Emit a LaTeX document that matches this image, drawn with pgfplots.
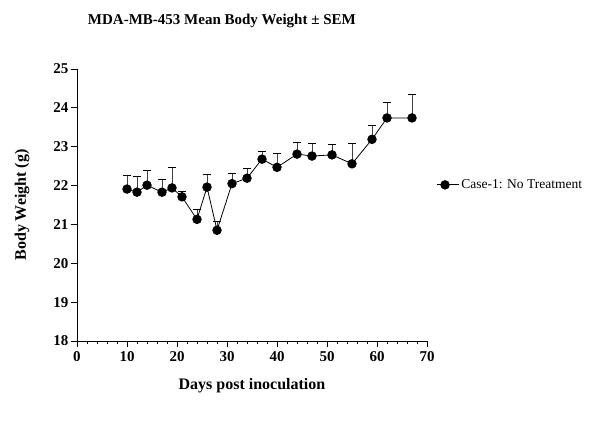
\documentclass[border=0pt]{standalone}
\usepackage{fontspec}
\setmainfont{Liberation Serif}
\usepackage{pgfplots}
\pgfplotsset{compat=1.18}
\usepackage{pgfplotstable}
\pgfplotstableread{
day mean err
10 21.91 0.35
12 21.83 0.40
14 22.01 0.37
17 21.83 0.34
19 21.94 0.53
21 21.71 0.15
24 21.13 0.26
26 21.96 0.32
28 20.85 0.22
31 22.05 0.25
34 22.19 0.26
37 22.68 0.20
40 22.47 0.35
44 22.81 0.31
47 22.76 0.32
51 22.79 0.27
55 22.56 0.52
59 23.19 0.36
62 23.74 0.41
67 23.74 0.61
}\bw
\begin{document}
\begin{tikzpicture}
\path[use as bounding box] (-77pt,-84pt) rectangle (520pt,341pt);
\begin{axis}[
  scale only axis,
  width=350pt, height=272pt,
  xmin=0, xmax=70, ymin=18, ymax=25,
  axis lines=left,
  axis line style={-, line width=0.8pt},
  xtick={0,10,...,70},
  ytick={18,19,...,25},
  minor x tick num=4,
  tick align=outside,
  major tick length=6pt,
  minor tick length=3.5pt,
  tick style={black, line width=0.8pt},
  /pgf/number format/assume math mode=true,
  ticklabel style={font=\fontsize{15}{17}\selectfont\bfseries},
  xticklabel style={yshift=-1pt},
  yticklabel style={xshift=1pt},
  xlabel={Days post inoculation},
  ylabel={Body Weight (g)},
  label style={font=\fontsize{16}{18}\selectfont\bfseries},
  xlabel style={at={(0.5,-0.165)}, anchor=center},
  ylabel style={at={(-0.157,0.5)}, anchor=center, rotate=0},
  every axis title shift=0pt,
  title={MDA-MB-453 Mean Body Weight \textpm{} SEM},
  title style={font=\fontsize{15}{17}\selectfont\bfseries, at={(0.414,1.176)}, anchor=center},
  legend style={draw=none, fill=none, at={(1.027,0.574)}, anchor=west, inner sep=0pt,
    font=\fontsize{13.5}{15}\selectfont, legend cell align=left},
  legend image code/.code={\draw[black, line width=0.8pt] (0pt,0pt) -- (16pt,0pt); \fill[black] (8pt,0pt) circle (4.3pt); \path (0pt,0pt) -- (22pt,0pt);},
  clip=false,
]
\addplot[black, line width=0.8pt, mark=*, mark size=4.3pt,
  error bars/.cd, y dir=plus, y explicit,
  error bar style={line width=0.9pt, black!75},
  error mark options={rotate=90, mark size=4pt, line width=0.9pt, black}]
  table[x=day, y=mean, y error=err] {\bw};
\addlegendentry{Case-1: No Treatment}
\end{axis}
\end{tikzpicture}
\end{document}
